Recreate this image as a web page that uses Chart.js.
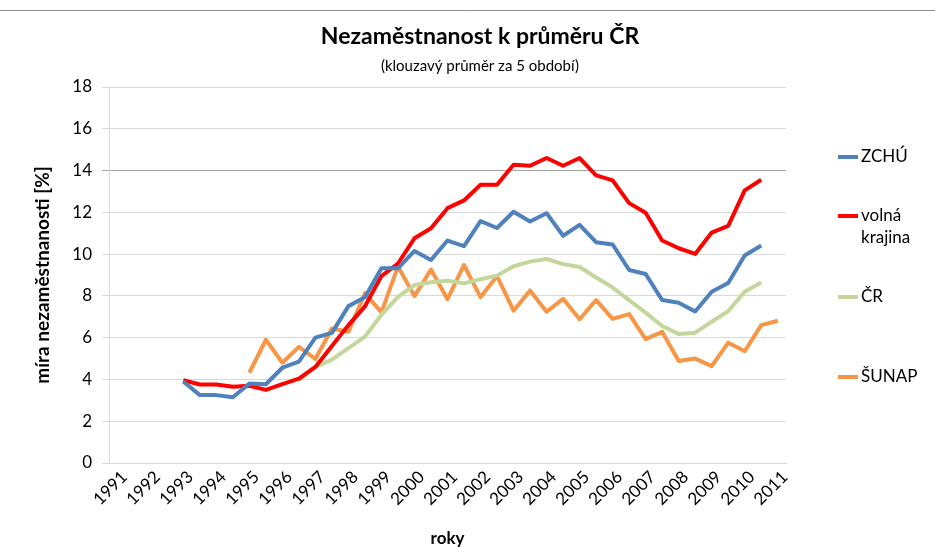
<!DOCTYPE html>
<html>
<head>
<meta charset="utf-8">
<script src="https://cdn.jsdelivr.net/npm/chart.js@4"></script>
<style>
  html, body { margin: 0; padding: 0; background: #fff; }
</style>
</head>
<body>
<canvas id="unempChart" width="935" height="547"></canvas>
<script>
// roky na ose (popisky), data jsou po pololetich
var years = ['1991', '1992', '1993', '1994', '1995', '1996', '1997', '1998', '1999', '2000',
  '2001', '2002', '2003', '2004', '2005', '2006', '2007', '2008', '2009', '2010', '2011']

var periods = []
years.forEach(function (y, i) {
  periods.push(y + '/1')
  if (i < years.length - 1) periods.push(y + '/2')
})

var zchu = [null, null, null, null,
  3.9, 3.25, 3.25, 3.15, 3.8, 3.77, 4.56, 4.85, 6.0, 6.23,
  7.51, 7.93, 9.32, 9.32, 10.15, 9.72, 10.65, 10.38, 11.58, 11.25,
  12.03, 11.56, 11.96, 10.88, 11.4, 10.57, 10.46, 9.24, 9.05, 7.8,
  7.67, 7.25, 8.2, 8.62, 9.93, 10.41,
  null]

var volnaKrajina = [null, null, null, null,
  3.96, 3.76, 3.76, 3.65, 3.7, 3.5, 3.78, 4.04, 4.6, 5.6,
  6.6, 7.5, 8.95, 9.55, 10.76, 11.24, 12.2, 12.57, 13.32, 13.32,
  14.28, 14.23, 14.6, 14.23, 14.6, 13.77, 13.53, 12.44, 11.98, 10.65,
  10.28, 10.01, 11.03, 11.35, 13.05, 13.56,
  null]

var cr = [null, null, null, null, null, null, null, null, null, null, null,
  3.95, 4.6, 4.95, 5.5, 6.05, 7.1, 7.95, 8.52, 8.65, 8.72,
  8.6, 8.8, 8.97, 9.42, 9.64, 9.77, 9.52, 9.38, 8.88, 8.4,
  7.8, 7.2, 6.56, 6.18, 6.24, 6.76, 7.27, 8.2, 8.64,
  null]

var sunap = [null, null, null, null, null, null, null, null,
  4.32, 5.9, 4.8, 5.56, 4.98, 6.44, 6.28, 8.13, 7.21, 9.41,
  7.99, 9.26, 7.84, 9.48, 7.94, 8.95, 7.29, 8.26, 7.24, 7.86,
  6.88, 7.8, 6.9, 7.13, 5.93, 6.28, 4.88, 5.0, 4.64, 5.76,
  5.35, 6.6, 6.81]

var chartTitle = 'Nezaměstnanost k průměru ČR'
var chartSubtitle = '(klouzavý průměr za 5 období)'
var legendRows = [157, 216, 297, 377]

function lineSet (label, data, color) {
  return {
    label: label,
    data: data,
    borderColor: color,
    backgroundColor: color,
    borderWidth: 4,
    pointRadius: 0,
    pointHoverRadius: 0,
    tension: 0,
    fill: false,
    spanGaps: false,
    borderJoinStyle: 'round',
    borderCapStyle: 'butt'
  }
}

// nadpis + legenda vpravo, Excel styl (zalamovani slov)
var decor = {
  id: 'decor',
  beforeDraw: function (chart) {
    var ctx = chart.ctx
    ctx.save()
    ctx.fillStyle = '#fff'
    ctx.fillRect(0, 0, chart.width, chart.height)
    ctx.strokeStyle = '#8c8c8c'
    ctx.lineWidth = 1
    ctx.beginPath()
    ctx.moveTo(0, 10.5)
    ctx.lineTo(chart.width, 10.5)
    ctx.stroke()
    ctx.restore()
  },
  afterDraw: function (chart) {
    var ctx = chart.ctx
    var x0 = chart.chartArea.right + 52
    ctx.save()
    ctx.fillStyle = '#000'
    ctx.textAlign = 'center'
    ctx.textBaseline = 'middle'
    ctx.font = 'bold 23px Lato'
    ctx.fillText(chartTitle, 480, 37)
    ctx.font = '15px Lato'
    ctx.fillText(chartSubtitle, 480, 66)

    ctx.font = '17px Lato'
    ctx.textAlign = 'left'
    chart.data.datasets.forEach(function (ds, i) {
      var y = legendRows[i]
      ctx.strokeStyle = ds.borderColor
      ctx.lineWidth = 4
      ctx.beginPath()
      ctx.moveTo(x0, y)
      ctx.lineTo(x0 + 20, y)
      ctx.stroke()
      ds.label.split(' ').forEach(function (word, j) {
        ctx.fillText(word, x0 + 23, y + j * 22)
      })
    })
    ctx.restore()
  }
}

var unempChart = new Chart(document.getElementById('unempChart'), {
  type: 'line',
  data: {
    labels: periods,
    datasets: [
      lineSet('ZCHÚ', zchu, '#4f81bd'),
      lineSet('volná krajina', volnaKrajina, '#ff0000'),
      lineSet('ČR', cr, '#c3d69b'),
      lineSet('ŠUNAP', sunap, '#f79646')
    ]
  },
  options: {
    responsive: false,
    animation: false,
    devicePixelRatio: 1,
    layout: { padding: { top: 87, right: 149, bottom: 0, left: 0 } },
    plugins: {
      legend: { display: false },
      tooltip: { enabled: false },
      title: { display: false }
    },
    scales: {
      x: {
        type: 'category',
        offset: true,
        grid: { display: false, drawTicks: false },
        border: { display: true, color: '#d9d9d9' },
        ticks: {
          autoSkip: false,
          minRotation: 45,
          maxRotation: 45,
          padding: 4,
          labelOffset: 7,
          color: '#000',
          font: { family: 'Lato', size: 17 },
          callback: function (value, index) {
            return index % 2 === 0 ? years[index / 2] : null
          }
        },
        title: {
          display: true,
          text: 'roky',
          color: '#000',
          font: { family: 'Lato', size: 17, weight: 'bold' },
          padding: { top: 0, bottom: -2 }
        },
        afterFit: function (scale) { scale.height = 84 }
      },
      y: {
        min: 0,
        max: 18,
        ticks: {
          stepSize: 2,
          padding: 10,
          color: '#000',
          font: { family: 'Lato', size: 17 }
        },
        grid: {
          color: function (ctx) {
            return ctx.tick && ctx.tick.value === 14 ? '#a6a6a6' : '#d9d9d9'
          },
          tickLength: 7
        },
        border: { display: true, color: '#d9d9d9' },
        title: {
          display: true,
          text: 'míra nezaměstnanosti [%]',
          color: '#000',
          font: { family: 'Lato', size: 19, weight: 'bold' },
          padding: { top: 31, bottom: 0 }
        },
        afterFit: function (scale) { scale.width = 109 }
      }
    }
  },
  plugins: [decor]
})
</script>
</body>
</html>
